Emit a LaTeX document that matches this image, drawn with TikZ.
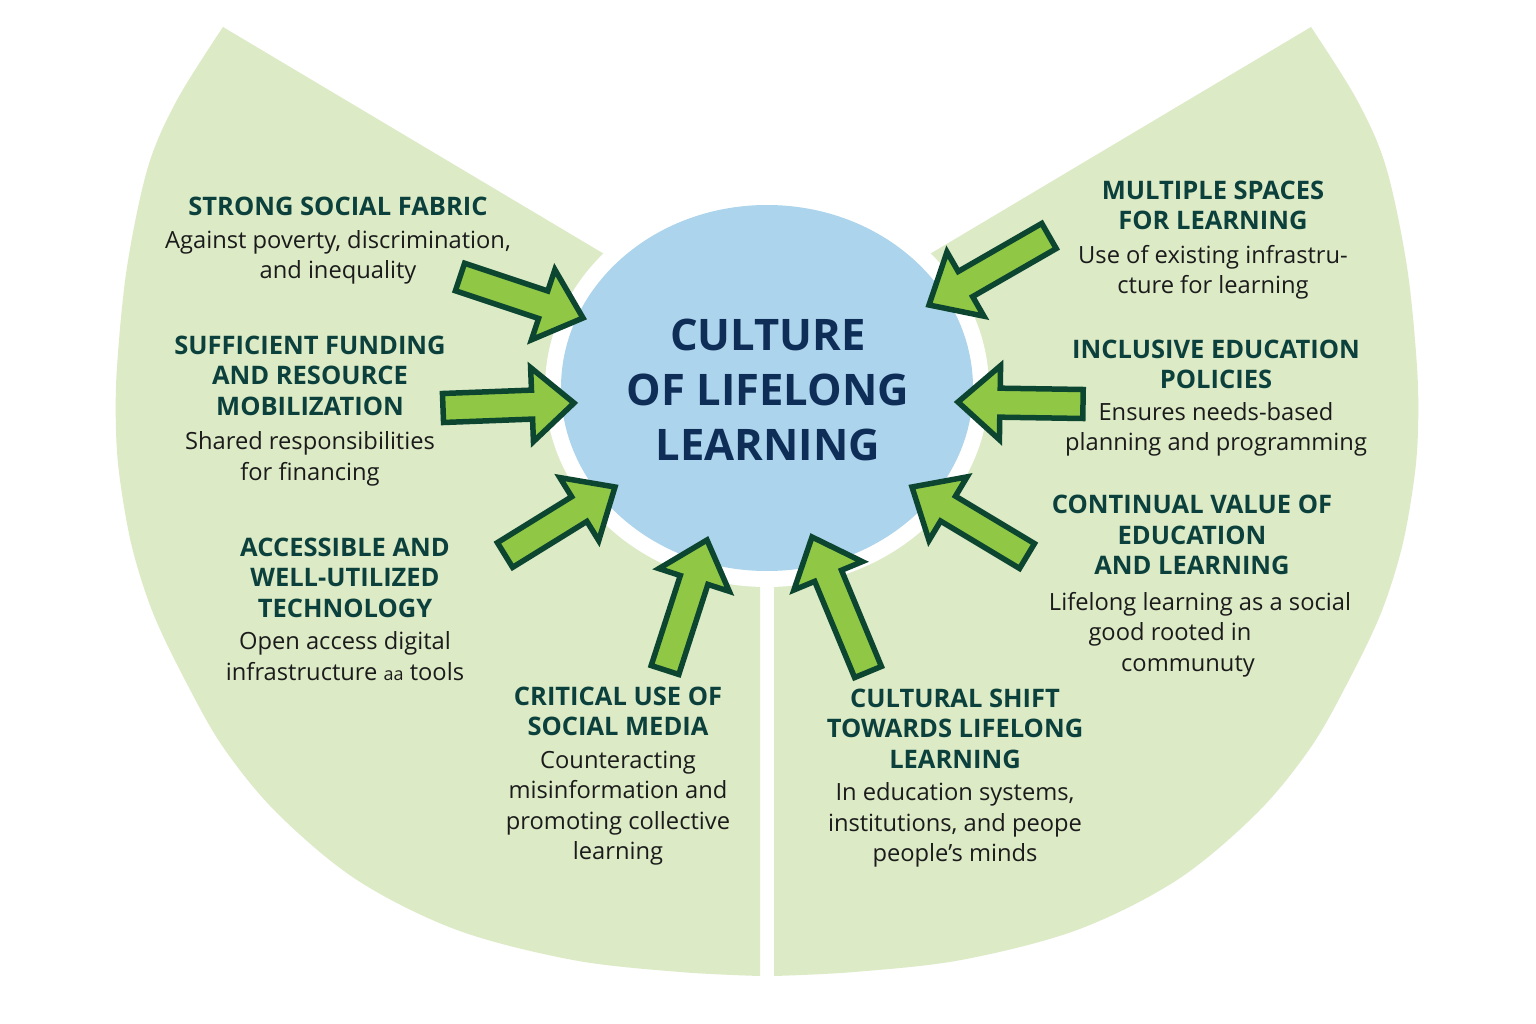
\documentclass[tikz,border=0pt]{standalone}
\usepackage{fontspec}
\setmainfont{Open Sans}
\usetikzlibrary{calc,shapes.geometric}
\definecolor{sectorgreen}{HTML}{DCEAC6}
\definecolor{bluecirc}{HTML}{ACD4EC}
\definecolor{titlecol}{HTML}{0F2E57}
\definecolor{headcol}{HTML}{0B403C}
\definecolor{bodycol}{HTML}{1B1B1B}
\definecolor{arrowfill}{HTML}{90C845}
\definecolor{arrowline}{HTML}{0D4630}
\newcommand\hf{\fontsize{25.5}{30.5}\selectfont\bfseries\color{headcol}}
\newcommand\blockarrow[2]{%
  \path ($(#2)!42pt!(#1)$) coordinate (hb);
  \draw[barrow]
    ($(#1)!14.5pt!90:(#2)$) --
    ($(hb)!14.5pt!-90:(#1)$) --
    ($(hb)!37pt!-90:(#1)$) --
    (#2) --
    ($(hb)!37pt!90:(#1)$) --
    ($(hb)!14.5pt!90:(#1)$) --
    ($(#1)!14.5pt!-90:(#2)$) -- cycle;}
\begin{document}
\begin{tikzpicture}[x=1pt,y=-1pt,
  txtblock/.style={align=center, font=\fontsize{23.7}{30.5}\selectfont, text=bodycol, inner sep=0pt},
  barrow/.style={fill=arrowfill, draw=arrowline, line width=5.5pt, line join=miter, miter limit=6},
  sector/.style={fill=sectorgreen},
  gap/.style={fill=white, draw=none}]
\useasboundingbox (0,0) rectangle (1536,1024);
\fill[white] (0,0) rectangle (1536,1024);
% left sector
\fill[sector] (223,27) -- (720,323) -- (760,360) -- plot[smooth,tension=0.55] coordinates {(760,976) (680,972) (573,960) (457,930) (357,880) (277,813) (223,747) (185,680) (153,613) (132,547) (120,480) (116,430) (117,367) (127,267) (148,167) (177,100) (223,27)} -- cycle;
% right sector (mirror)
\begin{scope}[shift={(1534,0)}, xscale=-1]
\fill[sector] (223,27) -- (720,323) -- (760,360) -- plot[smooth,tension=0.55] coordinates {(760,976) (680,972) (573,960) (457,930) (357,880) (277,813) (223,747) (185,680) (153,613) (132,547) (120,480) (116,430) (117,367) (127,267) (148,167) (177,100) (223,27)} -- cycle;
\end{scope}
% white ring and core
\node[ellipse, gap, minimum width=444pt, minimum height=398pt, inner sep=0pt] (ring) at (767,388) {};
\node[ellipse, fill=bluecirc, minimum width=412pt, minimum height=366pt, inner sep=0pt] (core) at (767,388) {};
\node[align=center, font=\fontsize{43.5}{55}\selectfont\bfseries, text=titlecol, inner sep=0pt] (title) at (768,390) {CULTURE\\OF LIFELONG\\LEARNING};
% arrows
\coordinate (a1s) at (460,277); \coordinate (a1e) at (583,318);
\coordinate (a2s) at (443,408); \coordinate (a2e) at (574,403);
\coordinate (a3s) at (505,555); \coordinate (a3e) at (615,487);
\coordinate (a4s) at (665,670); \coordinate (a4e) at (707,540);
\coordinate (a5s) at (868,672); \coordinate (a5e) at (812,537);
\coordinate (a6s) at (1027,556); \coordinate (a6e) at (912,487);
\coordinate (a7s) at (1083,404); \coordinate (a7e) at (958,402);
\coordinate (a8s) at (1049,236); \coordinate (a8e) at (929,305);
\blockarrow{a1s}{a1e}
\blockarrow{a2s}{a2e}
\blockarrow{a3s}{a3e}
\blockarrow{a4s}{a4e}
\blockarrow{a5s}{a5e}
\blockarrow{a6s}{a6e}
\blockarrow{a7s}{a7e}
\blockarrow{a8s}{a8e}
% text blocks
\node[txtblock] (b1) at (338,241) {{\hf STRONG SOCIAL FABRIC}\\[2pt]Against poverty, discrimination,\\and inequality};
\node[txtblock] (b2) at (310,411) {{\hf SUFFICIENT FUNDING}\\{\hf AND RESOURCE}\\{\hf MOBILIZATION}\\[4pt]Shared responsibilities\\for financing};
\node[txtblock] (b3) at (345,609) {{\hf ACCESSIBLE AND}\\{\hf WELL-UTILIZED}\\{\hf TECHNOLOGY}\\[2pt]Open access digital\\infrastructure {\fontsize{18}{30.5}\selectfont aa} tools};
\node[txtblock] (b4) at (618,776) {{\hf CRITICAL USE OF}\\{\hf SOCIAL MEDIA}\\[2pt]Counteracting\\misinformation and\\promoting collective\\learning};
\node[txtblock] (b5) at (1213,240) {{\hf MULTIPLE SPACES}\\{\hf FOR LEARNING}\\[3pt]Use of existing infrastru-\\cture for learning};
\node[txtblock] (b6) at (1216,398) {{\hf INCLUSIVE EDUCATION}\\{\hf POLICIES}\\[1pt]Ensures needs-based\\planning and programming};
\node[txtblock] (b7) at (1192,586) {{\hf CONTINUAL VALUE OF}\\{\hf EDUCATION}\\{\hf AND LEARNING}\\[5pt]\hspace*{16pt}Lifelong learning as a social\\good rooted in\rule{44pt}{0pt}\\communuty\rule{8pt}{0pt}};
\node[txtblock] (b8) at (955,778) {{\hf CULTURAL SHIFT}\\{\hf TOWARDS LIFELONG}\\{\hf LEARNING}\\[2pt]In education systems,\\institutions, and peope\\people’s minds};
\end{tikzpicture}
\end{document}
